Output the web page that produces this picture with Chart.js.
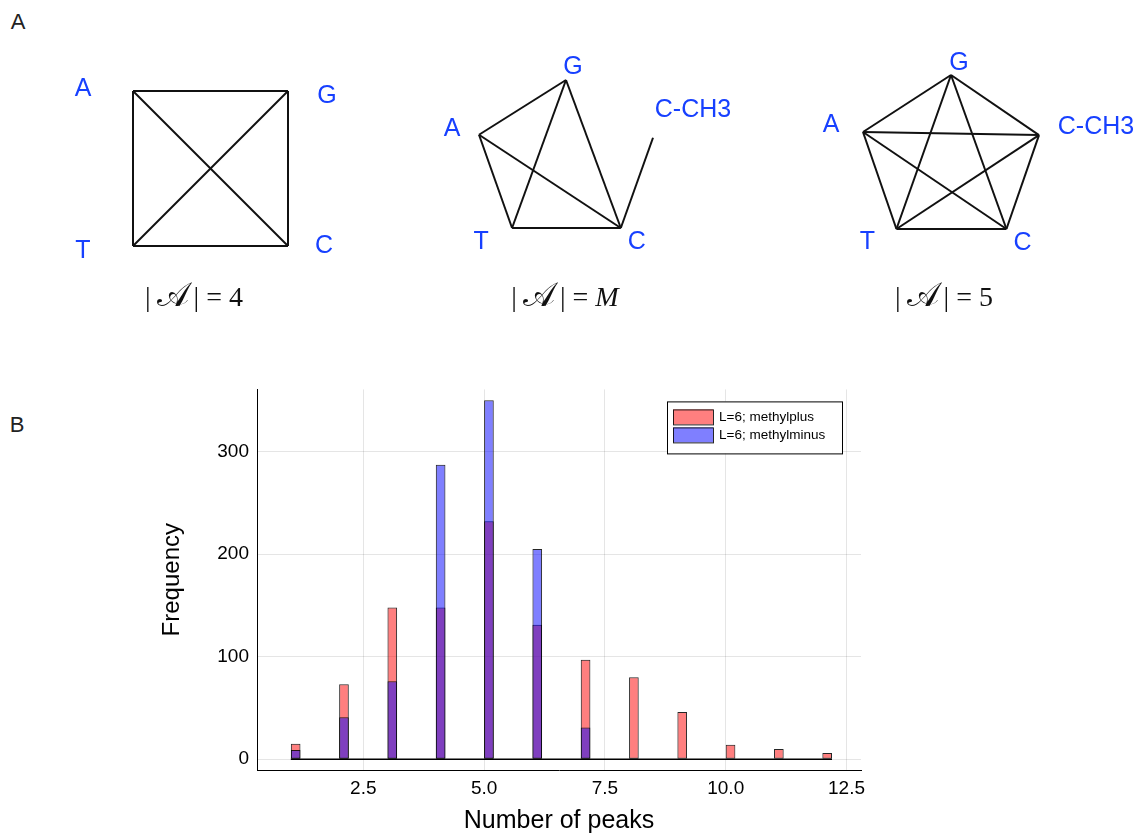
<!DOCTYPE html>
<html>
<head>
<meta charset="utf-8">
<script src="https://cdn.jsdelivr.net/npm/chart.js@4/dist/chart.umd.min.js"></script>
<style>
  body { margin: 0; background: #fff; }
  #page { position: relative; width: 1145px; height: 836px; overflow: hidden; font-family: "Liberation Sans", Arial, sans-serif; }
  canvas { position: absolute; }
  .txt { position: absolute; transform: translate(-50%, -50%); white-space: nowrap; }
  .panel { font-size: 22px; color: #222; }
  .formula { font-family: "Liberation Serif", "DejaVu Serif", serif; font-size: 28px; color: #111; }
  .formula .sa { font-size: 34px; margin: 0 5px 0 6px; }
  .formula i { font-style: italic; }
</style>
</head>
<body>
<div id="page">
  <div class="txt panel" style="left:18px; top:22px;">A</div>
  <div class="txt panel" style="left:17px; top:425px;">B</div>

  <canvas id="graphFour" width="330" height="240" style="left:40px; top:40px;"></canvas>
  <canvas id="graphMethyl" width="330" height="240" style="left:420px; top:40px;"></canvas>
  <canvas id="graphFive" width="345" height="240" style="left:800px; top:40px;"></canvas>

  <div class="txt formula" style="left:194px; top:295px;">|<span class="sa">𝒜</span>| = 4</div>
  <div class="txt formula" style="left:565px; top:295px;">|<span class="sa">𝒜</span>| = <i>M</i></div>
  <div class="txt formula" style="left:944px; top:295px;">|<span class="sa">𝒜</span>| = 5</div>

  <canvas id="peaksHist" width="1145" height="466" style="left:0; top:370px;"></canvas>
</div>
<script>
// --- alphabet graphs (unit coordinates, y up) ---
const squareNodes = ['A', 'G', 'T', 'C'];
const squareX = [0, 1, 0, 1];
const squareY = [1, 1, 0, 0];
const squareEdges = [['A', 'G'], ['G', 'C'], ['C', 'T'], ['T', 'A'], ['A', 'C'], ['G', 'T']];

const pentaNodes = ['A', 'G', 'C-CH3', 'T', 'C'];
const pentaX = [0, 0.5, 1, 0.19, 0.815];
const pentaY = [0.63, 1, 0.61, 0, 0];
const methylEdges = [['A', 'G'], ['A', 'T'], ['A', 'C'], ['G', 'T'], ['G', 'C'], ['T', 'C'], ['C', 'C-CH3']];
const fullEdges = [
  ['A', 'G'], ['G', 'C-CH3'], ['C-CH3', 'C'], ['C', 'T'], ['T', 'A'],
  ['A', 'C-CH3'], ['A', 'C'], ['G', 'T'], ['G', 'C'], ['T', 'C-CH3'],
];

// --- histogram of peak counts ---
const peaks = [1, 2, 3, 4, 5, 6, 7, 8, 9, 10, 11, 12];
const methylPlus = [15, 73, 148, 148, 232, 131, 97, 80, 46, 14, 10, 6];
const methylMinus = [9, 41, 76, 287, 350, 205, 31, 1, 0, 0, 0, 0];
const seriesNames = ['L=6; methylplus', 'L=6; methylminus'];
const binWidth = 0.2;
const xTickValues = [2.5, 5.0, 7.5, 10.0, 12.5];
const yTickValues = [0, 100, 200, 300];

const BLUE_TEXT = '#1740ff';
const EDGE = '#111';

// label offsets (px) from each node
const squareLabelOff = { A: [-50, -2], G: [39, 5], T: [-50, 5], C: [36, 0] };
const methylLabelOff = { A: [-27, -6], G: [7, -13], 'C-CH3': [40, -28], T: [-31, 14], C: [16, 14] };
const fiveLabelOff = { A: [-32, -7], G: [8, -12], 'C-CH3': [57, -8], T: [-29, 13], C: [16, 14] };

function nodePoint(names, xs, ys, name) {
  const i = names.indexOf(name);
  return { x: xs[i], y: ys[i] };
}

const nodeLabels = {
  id: 'nodeLabels',
  afterDatasetsDraw(chart, args, opts) {
    const { ctx, scales } = chart;
    ctx.save();
    ctx.font = '25px "Liberation Sans", Arial, sans-serif';
    ctx.fillStyle = BLUE_TEXT;
    ctx.textAlign = 'center';
    ctx.textBaseline = 'middle';
    opts.names.forEach((n, i) => {
      const off = opts.offsets[n];
      const px = scales.x.getPixelForValue(opts.xs[i]) + off[0];
      const py = scales.y.getPixelForValue(opts.ys[i]) + off[1];
      ctx.fillText(n, px, py);
    });
    ctx.restore();
  },
};

function mkGraph(id, names, xs, ys, edges, offsets, padding) {
  const datasets = edges.map(([a, b]) => ({
    data: [nodePoint(names, xs, ys, a), nodePoint(names, xs, ys, b)],
    showLine: true,
    pointRadius: 0,
    borderColor: EDGE,
    borderWidth: 2,
    clip: false,
  }));
  return new Chart(document.getElementById(id), {
    type: 'scatter',
    data: { datasets },
    options: {
      responsive: false,
      animation: false,
      layout: { padding },
      scales: {
        x: { type: 'linear', min: 0, max: 1, display: false },
        y: { type: 'linear', min: 0, max: 1, display: false },
      },
      plugins: {
        legend: { display: false },
        tooltip: { enabled: false },
        nodeLabels: { names, xs, ys, offsets },
      },
    },
    plugins: [nodeLabels],
  });
}

mkGraph('graphFour', squareNodes, squareX, squareY, squareEdges, squareLabelOff,
  { left: 93, top: 51, right: 82, bottom: 34 });
mkGraph('graphMethyl', pentaNodes, pentaX, pentaY, methylEdges, methylLabelOff,
  { left: 59, top: 40, right: 97, bottom: 52 });
mkGraph('graphFive', pentaNodes, pentaX, pentaY, fullEdges, fiveLabelOff,
  { left: 63, top: 35, right: 106, bottom: 51 });

// --- histogram ---
const RED_FILL = 'rgba(255, 0, 0, 0.5)';
const BLUE_FILL = 'rgba(0, 0, 255, 0.5)';
const fills = [RED_FILL, BLUE_FILL];

const boxLegend = {
  id: 'boxLegend',
  afterDraw(chart) {
    const { ctx, chartArea } = chart;
    const w = 175, h = 52;
    const x0 = chartArea.right - 19 - w;
    const y0 = chartArea.top + 12;
    ctx.save();
    ctx.fillStyle = '#fff';
    ctx.fillRect(x0, y0, w, h);
    ctx.strokeStyle = '#000';
    ctx.lineWidth = 1;
    ctx.strokeRect(x0 + 0.5, y0 + 0.5, w, h);
    ctx.font = '13.5px "Liberation Sans", Arial, sans-serif';
    ctx.textBaseline = 'middle';
    seriesNames.forEach((name, i) => {
      const ry = y0 + 8 + i * 18;
      ctx.fillStyle = fills[i];
      ctx.fillRect(x0 + 6, ry, 40, 15);
      ctx.strokeStyle = 'rgba(0,0,0,0.85)';
      ctx.strokeRect(x0 + 6.5, ry + 0.5, 40, 15);
      ctx.fillStyle = '#000';
      ctx.fillText(name, x0 + 52, ry + 8);
    });
    ctx.restore();
  },
};

const barStyle = {
  borderColor: 'rgba(0, 0, 0, 0.85)',
  borderWidth: 1,
  borderSkipped: false,
  grouped: false,
  barPercentage: binWidth,
  categoryPercentage: 1,
};

const toBins = (vals) => peaks.map((p, i) => ({ x: p + binWidth / 2, y: vals[i] }));
const useTicks = (values) => (scale) => { scale.ticks = values.map((value) => ({ value })); };

new Chart(document.getElementById('peaksHist'), {
  type: 'bar',
  data: {
    datasets: [
      { label: seriesNames[0], data: toBins(methylPlus), backgroundColor: RED_FILL, order: 2, ...barStyle },
      { label: seriesNames[1], data: toBins(methylMinus), backgroundColor: BLUE_FILL, order: 1, ...barStyle },
      {
        type: 'line',
        data: [{ x: peaks[0], y: 0 }, { x: peaks[peaks.length - 1] + binWidth, y: 0 }],
        borderColor: '#000',
        borderWidth: 1.4,
        pointRadius: 0,
        order: 0,
      },
    ],
  },
  options: {
    responsive: false,
    animation: false,
    layout: { padding: { left: 154, top: 18, right: 284, bottom: 0 } },
    scales: {
      x: {
        type: 'linear',
        min: 0.3,
        max: 12.8,
        offset: false,
        afterBuildTicks: useTicks(xTickValues),
        grid: { color: 'rgba(0,0,0,0.1)', drawTicks: false, offset: false },
        border: { display: true, color: '#000', width: 1 },
        ticks: {
          padding: 7,
          color: '#000',
          font: { family: '"Liberation Sans", Arial, sans-serif', size: 19 },
          callback: (v) => v.toFixed(1),
        },
        title: {
          display: true,
          text: 'Number of peaks',
          color: '#000',
          padding: { top: 0, bottom: 0 },
          font: { family: '"Liberation Sans", Arial, sans-serif', size: 25 },
        },
        afterFit: (s) => { s.height = 66; },
      },
      y: {
        type: 'linear',
        min: -10.5,
        max: 360.5,
        afterBuildTicks: useTicks(yTickValues),
        grid: { color: 'rgba(0,0,0,0.1)', drawTicks: false },
        border: { display: true, color: '#000', width: 1 },
        ticks: {
          padding: 8,
          color: '#000',
          font: { family: '"Liberation Sans", Arial, sans-serif', size: 19 },
        },
        title: {
          display: true,
          text: 'Frequency',
          color: '#000',
          padding: { top: 4, bottom: 0 },
          font: { family: '"Liberation Sans", Arial, sans-serif', size: 24 },
        },
        afterFit: (s) => { s.width = 257 - 154; },
      },
    },
    plugins: {
      legend: { display: false },
      tooltip: { enabled: false },
    },
  },
  plugins: [boxLegend],
});
</script>
</body>
</html>
